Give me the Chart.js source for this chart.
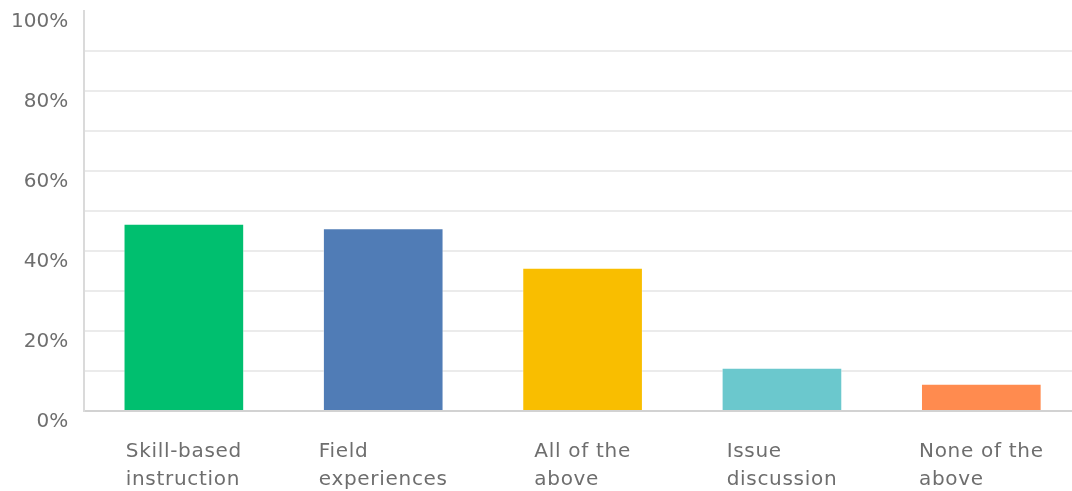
<!DOCTYPE html>
<html>
<head>
<meta charset="utf-8">
<script src="https://cdn.jsdelivr.net/npm/chart.js@4/dist/chart.umd.min.js"></script>
<style>
  html, body { margin: 0; padding: 0; background: #fff; overflow: hidden; }
  #wrap { width: 1081px; height: 491px; }
</style>
</head>
<body>
<div id="wrap"><canvas id="graphique"></canvas></div>
<script>
// categories, one array of lines per bar
const categories = [
    ['Skill-based', 'instruction'],
    ['Field', 'experiences'],
    ['All of the', 'above'],
    ['Issue', 'discussion'],
    ['None of the', 'above']
];
const values = [46.7, 45.6, 35.7, 10.7, 6.7];
const barColors = ['#00bf6f', '#507cb6', '#f9be00', '#6bc8cd', '#ff8b4f'];
const yTicks = [0, 20, 40, 60, 80, 100];

const textColor = '#6e6e6e';
const fontName = '"DejaVu Sans", sans-serif';

// x labels: lines left aligned inside a block centred on the bar
const xLabelPlugin = {
    id: 'xLabels',
    afterDraw(chart) {
        const ctx = chart.ctx;
        const xs = chart.scales.x;
        ctx.save();
        ctx.font = '20px ' + fontName;
        ctx.letterSpacing = '0.7px';
        ctx.fillStyle = textColor;
        ctx.textAlign = 'left';
        ctx.textBaseline = 'alphabetic';
        categories.forEach((lines, i) => {
            let w = 0;
            lines.forEach(l => { w = Math.max(w, ctx.measureText(l).width); });
            const left = xs.getPixelForValue(i) - w / 2;
            lines.forEach((l, k) => {
                ctx.fillText(l, left, chart.chartArea.bottom + 46 + k * 28);
            });
        });
        ctx.restore();
    }
};

const ctx = document.getElementById('graphique').getContext('2d');
new Chart(ctx, {
    type: 'bar',
    data: {
        labels: categories.map(c => c.join(' ')),
        datasets: [{
            data: values,
            backgroundColor: barColors,
            borderColor: 'rgba(255,255,255,0.35)',
            borderWidth: 1,
            barThickness: 120
        }]
    },
    options: {
        responsive: true,
        maintainAspectRatio: false,
        animation: false,
        layout: {
            padding: { left: -5, right: 0, top: 11, bottom: 72 }
        },
        plugins: {
            legend: { display: false },
            tooltip: { enabled: false }
        },
        scales: {
            x: {
                ticks: { display: false },
                grid: { display: false },
                border: { color: '#d2d2d2', width: 2 }
            },
            y: {
                min: 0,
                max: 100,
                afterFit: scale => { scale.paddingTop = 0; scale.paddingBottom = 0; },
                ticks: {
                    stepSize: 10,
                    padding: 16,
                    labelOffset: 11,
                    color: textColor,
                    font: { family: fontName, size: 20 },
                    callback: v => yTicks.includes(v) ? v + '%' : ''
                },
                grid: {
                    // pas de ligne en haut (100%)
                    color: c => c.tick && c.tick.value === 100 ? 'rgba(0,0,0,0)' : '#ebebeb',
                    lineWidth: 2,
                    drawTicks: false
                },
                border: { color: '#dadada', width: 2 }
            }
        }
    },
    plugins: [xLabelPlugin]
});
</script>
</body>
</html>
